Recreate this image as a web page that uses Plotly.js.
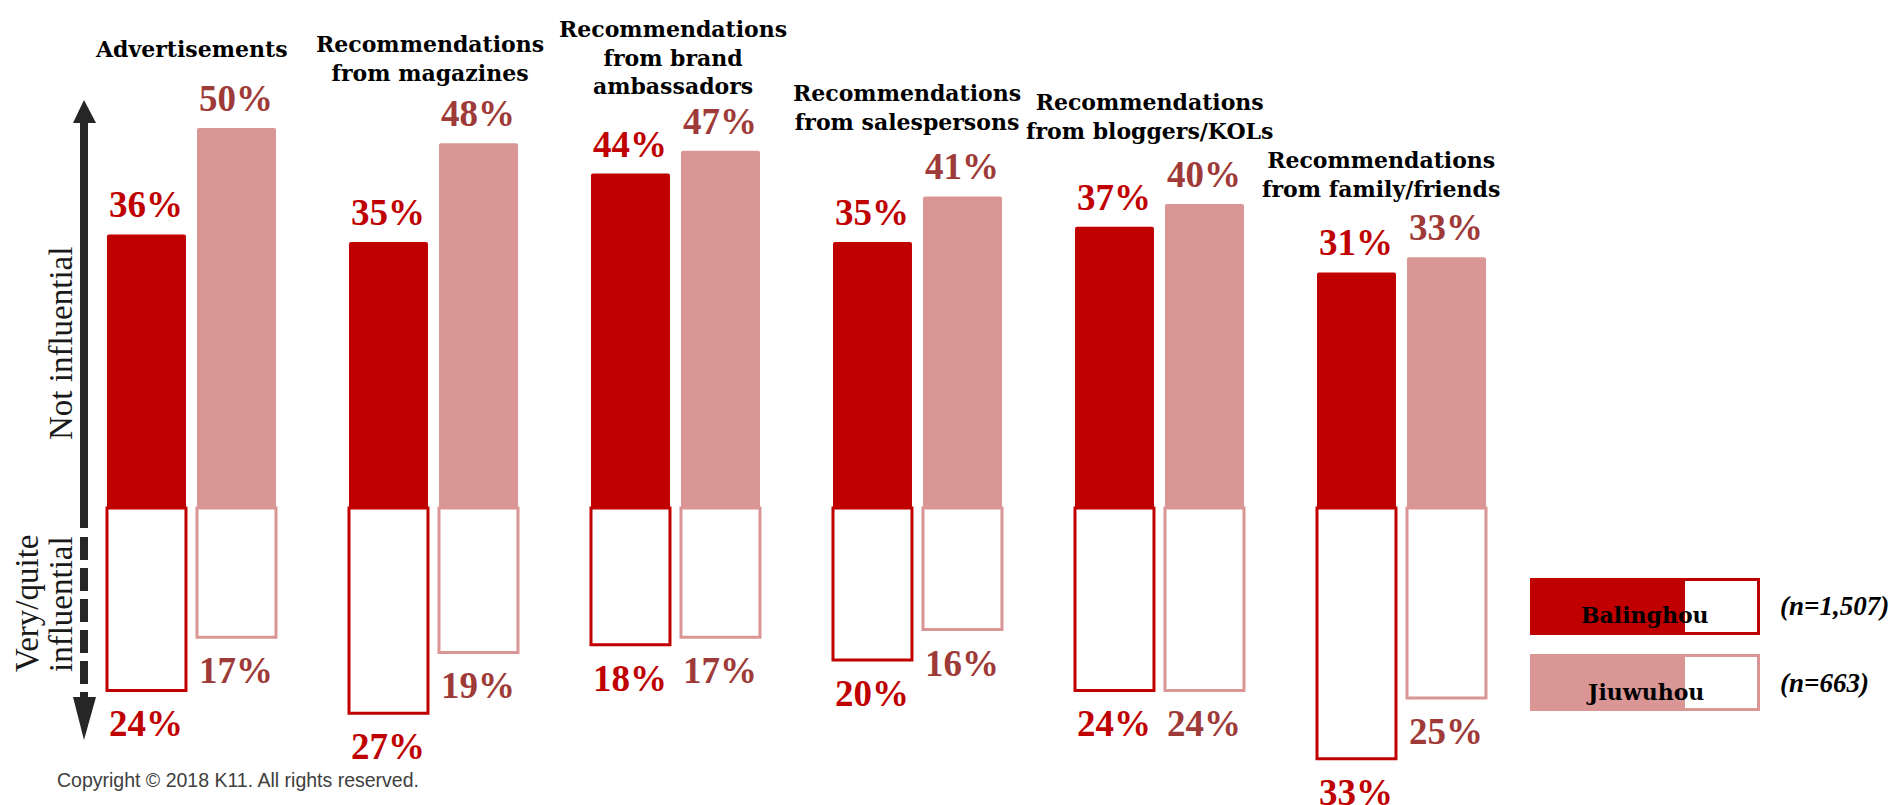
<!DOCTYPE html>
<html>
<head>
<meta charset="utf-8">
<script src="https://cdn.plot.ly/plotly-3.0.1.min.js"></script>
<style>html,body{margin:0;padding:0;background:#fff;}#chart{width:1889px;height:805px;}</style>
</head>
<body>
<div id="chart"></div>
<script>
// ---- data ----
const categories = [
  "Advertisements",
  "Recommendations<br>from magazines",
  "Recommendations<br>from brand<br>ambassadors",
  "Recommendations<br>from salespersons",
  "Recommendations<br>from bloggers/KOLs",
  "Recommendations<br>from family/friends"
];
const seriesNames = ["Balinghou", "Jiuwuhou"];
const sampleSizes = ["(n=1,507)", "(n=663)"];
const balinghouNot = [36, 35, 44, 35, 37, 31];
const jiuwuhouNot = [50, 48, 47, 41, 40, 33];
const balinghouVery = [24, 27, 18, 20, 24, 33];
const jiuwuhouVery = [17, 19, 17, 16, 24, 25];
const axisLabelTop = "Not influential";
const axisLabelBottom = ["Very/quite", "influential"];
const copyright = "Copyright © 2018 K11. All rights reserved.";

// ---- styling ----
const W = 1889, H = 805;
const RED = "#C00000", PINK = "#D99694", PINK_TXT = "#9E3A38", DARK = "#262626";
const SERIF = "Liberation Serif, Times New Roman, serif";
const TSERIF = "DejaVu Serif, serif";
const SANS = "Liberation Sans, Arial, sans-serif";
const PX_PER = 7.6, BASE = 508;
const xs = categories.map((c, i) => i);
const BW = 0.3264;           // bar width (axis units)
const OFF_B = -0.3492, OFF_J = 0.0227;
const CB = OFF_B + BW / 2, CJ = OFF_J + BW / 2;
// small pixel nudges for the category titles (layout tweak)
const titleDX = [0, -4, -3, -11, -10, -21];
const titleDY = [10, 1, -4, 5, 4, -1];

const pxX = p => p / W;
const pxY = p => 1 - p / H;

const traces = [
  {type: "bar", x: xs, y: balinghouNot, width: BW, offset: OFF_B,
   marker: {color: RED, line: {width: 0}, cornerradius: 2}, hoverinfo: "skip"},
  {type: "bar", x: xs, y: jiuwuhouNot, width: BW, offset: OFF_J,
   marker: {color: PINK, line: {width: 0}, cornerradius: 2}, hoverinfo: "skip"},
  {type: "bar", x: xs, y: balinghouVery.map(v => -v), width: BW, offset: OFF_B,
   marker: {color: "#FFFFFF", line: {color: RED, width: 3}}, hoverinfo: "skip"},
  {type: "bar", x: xs, y: jiuwuhouVery.map(v => -v), width: BW, offset: OFF_J,
   marker: {color: "#FFFFFF", line: {color: PINK, width: 3}}, hoverinfo: "skip"}
];

const ann = [];
const labFont = c => ({family: SERIF, size: 37, color: c});
xs.forEach((x, i) => {
  ann.push({x: x + CB, y: balinghouNot[i], xref: "x", yref: "y", text: "<b>" + balinghouNot[i] + "%</b>",
    showarrow: false, xanchor: "center", yanchor: "bottom", yshift: 7, font: labFont(RED)});
  ann.push({x: x + CJ, y: jiuwuhouNot[i], xref: "x", yref: "y", text: "<b>" + jiuwuhouNot[i] + "%</b>",
    showarrow: false, xanchor: "center", yanchor: "bottom", yshift: 7, font: labFont(PINK_TXT)});
  ann.push({x: x + CB, y: -balinghouVery[i], xref: "x", yref: "y", text: "<b>" + balinghouVery[i] + "%</b>",
    showarrow: false, xanchor: "center", yanchor: "top", yshift: -11, font: labFont(RED)});
  ann.push({x: x + CJ, y: -jiuwuhouVery[i], xref: "x", yref: "y", text: "<b>" + jiuwuhouVery[i] + "%</b>",
    showarrow: false, xanchor: "center", yanchor: "top", yshift: -11, font: labFont(PINK_TXT)});
  ann.push({x: x, y: Math.max(balinghouNot[i], jiuwuhouNot[i]), xref: "x", yref: "y",
    text: "<b>" + categories[i] + "</b>", showarrow: false, xanchor: "center", yanchor: "bottom",
    yshift: 54 + titleDY[i], xshift: titleDX[i],
    align: "center", font: {family: TSERIF, size: 22, color: "#000000"}});
});

// axis side labels
const sideFont = {family: SERIF, size: 33, color: "#1a1a1a"};
ann.push({x: pxX(61), y: pxY(343), xref: "paper", yref: "paper", text: axisLabelTop, textangle: -90,
  xanchor: "center", yanchor: "middle", showarrow: false, font: sideFont});
axisLabelBottom.forEach((t, k) => {
  ann.push({x: pxX(27 + 34 * k), y: pxY(604), xref: "paper", yref: "paper", text: t, textangle: -90,
    xanchor: "center", yanchor: "middle", showarrow: false, font: sideFont});
});
// copyright
ann.push({x: pxX(55), y: pxY(780), xref: "paper", yref: "paper", text: copyright, xanchor: "left", yanchor: "middle",
  showarrow: false, font: {family: SANS, size: 19.5, color: "#404040"}});
// legend texts
const legY = [606, 683];
const legCol = [RED, PINK];
seriesNames.forEach((s, k) => {
  ann.push({x: pxX(1645), y: pxY(legY[k] + 9), xref: "paper", yref: "paper", text: "<b>" + s + "</b>",
    xanchor: "center", yanchor: "middle", showarrow: false, font: {family: TSERIF, size: 22, color: "#000000"}});
  ann.push({x: pxX(1778), y: pxY(legY[k]), xref: "paper", yref: "paper", text: "<b><i>" + sampleSizes[k] + "</i></b>",
    xanchor: "left", yanchor: "middle", showarrow: false, font: {family: SERIF, size: 27, color: "#000000"}});
});

const shapes = [];
// arrow: solid upper part + dashed lower part
shapes.push({type: "line", xref: "paper", yref: "paper", x0: pxX(84), x1: pxX(84), y0: pxY(118), y1: pxY(528),
  line: {color: DARK, width: 8}});
shapes.push({type: "line", xref: "paper", yref: "paper", x0: pxX(84), x1: pxX(84), y0: pxY(537), y1: pxY(700),
  line: {color: DARK, width: 8, dash: "23px,8px"}});
shapes.push({type: "path", xref: "paper", yref: "paper",
  path: `M ${pxX(73)} ${pxY(123)} L ${pxX(84)} ${pxY(100)} L ${pxX(96)} ${pxY(123)} Z`,
  fillcolor: DARK, line: {width: 0}});
shapes.push({type: "path", xref: "paper", yref: "paper",
  path: `M ${pxX(73)} ${pxY(697)} L ${pxX(84)} ${pxY(740)} L ${pxX(96)} ${pxY(697)} Z`,
  fillcolor: DARK, line: {width: 0}});
// legend swatches
const legTop = [578, 654];
legTop.forEach((t, k) => {
  shapes.push({type: "rect", xref: "paper", yref: "paper", x0: pxX(1531.5), x1: pxX(1758.5), y0: pxY(t + 1.5), y1: pxY(t + 55.5),
    fillcolor: "#FFFFFF", line: {color: legCol[k], width: 3}});
  shapes.push({type: "rect", xref: "paper", yref: "paper", x0: pxX(1530), x1: pxX(1685), y0: pxY(t), y1: pxY(t + 57),
    fillcolor: legCol[k], line: {width: 0}});
});

const layout = {
  width: W, height: H,
  margin: {l: 0, r: 0, t: 0, b: 0},
  paper_bgcolor: "#FFFFFF", plot_bgcolor: "rgba(0,0,0,0)",
  barmode: "overlay",
  showlegend: false,
  xaxis: {range: [-191.5 / 242, -191.5 / 242 + W / 242], visible: false, fixedrange: true},
  yaxis: {range: [-(H - BASE) / PX_PER, BASE / PX_PER], visible: false, fixedrange: true},
  annotations: ann,
  shapes: shapes
};

Plotly.newPlot("chart", traces, layout, {displayModeBar: false, staticPlot: true});
</script>
</body>
</html>
